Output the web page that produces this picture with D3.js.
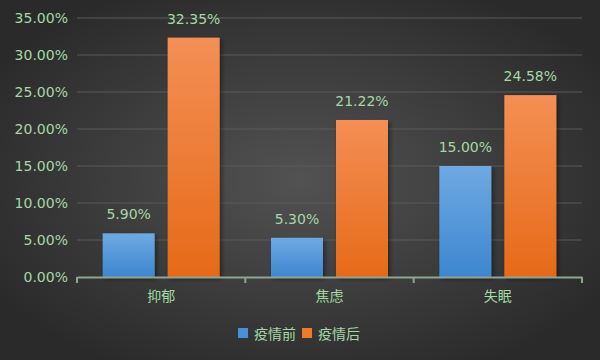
<!DOCTYPE html>
<html><head><meta charset="utf-8">
<script src="https://cdn.jsdelivr.net/npm/d3@7"></script>
<style>body{margin:0;}svg{display:block;}</style>
</head><body>
<script>
const categories = ["抑郁", "焦虑", "失眠"];
const seriesNames = ["疫情前", "疫情后"];
const before = [5.90, 5.30, 15.00];
const after = [32.35, 21.22, 24.58];
const yTicks = [0, 5, 10, 15, 20, 25, 30, 35];

(function(){
const W = 600, H = 360;
const svg = d3.select("body").append("svg").attr("width", W).attr("height", H);
const defs = svg.append("defs");
const bg = defs.append("radialGradient").attr("id","bg").attr("cx","50%").attr("cy","50%").attr("r","60%");
bg.append("stop").attr("offset","0%").attr("stop-color","#525252");
bg.append("stop").attr("offset","100%").attr("stop-color","#2a2a2a");
const gB = defs.append("linearGradient").attr("id","gB").attr("x1",0).attr("y1",0).attr("x2",0).attr("y2",1);
gB.append("stop").attr("offset","0%").attr("stop-color","#6fa9e2");
gB.append("stop").attr("offset","100%").attr("stop-color","#3d86cf");
const gO = defs.append("linearGradient").attr("id","gO").attr("x1",0).attr("y1",0).attr("x2",0).attr("y2",1);
gO.append("stop").attr("offset","0%").attr("stop-color","#f38f55");
gO.append("stop").attr("offset","100%").attr("stop-color","#e66a18");
const sh = defs.append("filter").attr("id","sh").attr("x","-20%").attr("y","-20%").attr("width","150%").attr("height","150%");
sh.append("feDropShadow").attr("dx",2).attr("dy",2).attr("stdDeviation",2).attr("flood-color","#000").attr("flood-opacity",0.45);

svg.append("rect").attr("width",W).attr("height",H).attr("fill","url(#bg)");

const mLeft = 77, mRight = 582, mTop = 18, mBottom = 277;
const x = d3.scaleBand().domain(categories).range([mLeft, mRight]);
const x1 = d3.scaleBand().domain(seriesNames).range([0, x.bandwidth()]).paddingInner(0.2).paddingOuter(0.395);
const y = d3.scaleLinear().domain([0, 35]).range([mBottom, mTop]);
const txt = "#a3d9a3";
const font = "'DejaVu Sans', 'Noto Sans CJK SC', sans-serif";

// grid
svg.append("g").selectAll("line").data(yTicks.slice(1)).join("line")
  .attr("x1", mLeft).attr("x2", mRight).attr("y1", d=>y(d)).attr("y2", d=>y(d))
  .attr("stroke", "#5a5a5a").attr("stroke-width", 1);

// y axis
const ya = svg.append("g").attr("transform",`translate(${mLeft},0)`)
  .call(d3.axisLeft(y).tickValues(yTicks).tickFormat(d=>d.toFixed(2)+"%").tickSize(0).tickPadding(9));
ya.select(".domain").remove();
ya.selectAll("text").attr("fill", txt).attr("font-size", 14).attr("font-family", font);

// bars
const data = categories.map((c,i)=>({c, vals:[{s:seriesNames[0], v:before[i]},{s:seriesNames[1], v:after[i]}]}));
const fills = {"疫情前":"url(#gB)", "疫情后":"url(#gO)"};
const grp = svg.append("g").selectAll("g").data(data).join("g").attr("transform", d=>`translate(${x(d.c)},0)`);
grp.selectAll("rect").data(d=>d.vals).join("rect")
  .attr("x", d=>x1(d.s)).attr("width", x1.bandwidth())
  .attr("y", d=>y(d.v)).attr("height", d=>mBottom - y(d.v))
  .attr("fill", d=>fills[d.s]).attr("filter","url(#sh)");
grp.selectAll("text").data(d=>d.vals).join("text")
  .attr("x", d=>x1(d.s)+x1.bandwidth()/2).attr("y", d=>y(d.v)-14)
  .attr("text-anchor","middle").attr("fill", txt).attr("font-size", 14).attr("font-family", font)
  .text(d=>d.v.toFixed(2)+"%");

// x axis
const xa = svg.append("g").attr("transform",`translate(0,${mBottom})`)
  .call(d3.axisBottom(x).tickSize(0).tickPadding(14));
xa.select(".domain").attr("stroke","#8fa58f").attr("stroke-width",2);
xa.selectAll("text").attr("fill", txt).attr("font-size", 14).attr("font-family", font);
svg.append("g").selectAll("line").data(d3.range(categories.length+1)).join("line")
  .attr("x1", i=>mLeft + i*x.bandwidth()).attr("x2", i=>mLeft + i*x.bandwidth())
  .attr("y1", mBottom).attr("y2", mBottom+6).attr("stroke","#8fa58f").attr("stroke-width",2);

// legend
const lg = svg.append("g");
const items = [{n:seriesNames[0], c:"#4a90d9", x:238},{n:seriesNames[1], c:"#ee7a2c", x:302}];
items.forEach(it=>{
  lg.append("rect").attr("x", it.x).attr("y", 328).attr("width", 10).attr("height", 10).attr("fill", it.c);
  lg.append("text").attr("x", it.x+16).attr("y", 339).attr("fill", txt).attr("font-size", 14).attr("font-family", font).text(it.n);
});
})();
</script>
</body></html>
